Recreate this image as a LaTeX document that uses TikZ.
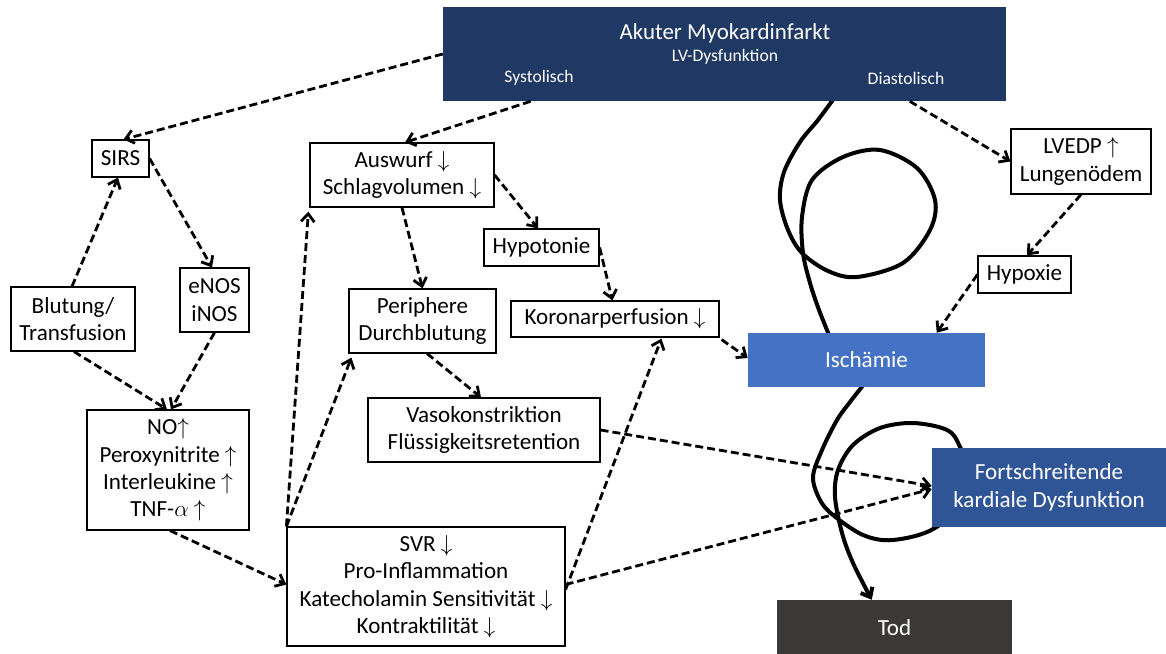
\documentclass[tikz,border=0pt]{standalone}
\usepackage{fontspec}
\setmainfont{Carlito}
\usetikzlibrary{arrows.meta,calc}
\pgfdeclarelayer{background}
\pgfsetlayers{background,main}
\definecolor{navy}{HTML}{203864}
\definecolor{isch}{HTML}{4472C4}
\definecolor{fort}{HTML}{2F5597}
\definecolor{todc}{HTML}{3B3838}
\newcommand{\arrdn}{$\downarrow$}
\newcommand{\arrup}{$\uparrow$}
\begin{document}
\begin{tikzpicture}[x=0.75pt,y=-0.75pt,
  bx/.style={draw, line width=0.9pt, fill=white, inner sep=0pt, align=center, font=\fontsize{17.3}{20.6}\selectfont},
  sbox/.style={fill=#1, text=white, inner sep=0pt, align=center, font=\fontsize{17.3}{20.6}\selectfont},
  wh/.style 2 args={minimum width=#1*0.75pt, minimum height=#2*0.75pt},
  dasharrow/.style={line width=2.1pt, dash pattern=on 6pt off 3pt, -{Straight Barb[length=6pt,width=10pt]}},
  curve/.style={line width=3pt, line cap=round, line join=round},
  toplabel/.style={text=white, inner sep=0pt, font=\fontsize{13.2}{15}\selectfont}]
\useasboundingbox (0,0) rectangle (1166,653);

% top box
\node[sbox=navy, wh={563}{94}] (top) at (724.5,54) {};
\node[text=white, inner sep=0pt, font=\fontsize{17.2}{20}\selectfont] (title) at (725,33) {Akuter Myokardinfarkt};
\node[toplabel] (lvd) at (725,57) {LV-Dysfunktion};
\node[toplabel] (sys) at (539,78) {Systolisch};
\node[toplabel] (dia) at (906,78) {Diastolisch};

% white boxes
\node[bx, wh={57}{37}] (sirs) at (120.5,158.5) {SIRS};
\node[bx, wh={69}{64}] (enos) at (214.5,300) {eNOS\\iNOS};
\node[bx, wh={124}{64}] (blut) at (73,319) {Blutung/\\Transfusion};
\node[bx, wh={184}{64}] (ausw) at (402,175) {Auswurf \arrdn\\Schlagvolumen \arrdn};
\node[bx, wh={115}{37}] (hypo) at (541.5,247.5) {Hypotonie};
\node[bx, wh={147}{64}] (peri) at (422.5,321) {Periphere\\Durchblutung};
\node[bx, wh={208}{36}] (koro) at (615,319) {Koronarperfusion \arrdn};
\node[bx, wh={140}{65}] (lved) at (1081,161.5) {LVEDP \arrup\\Lungenödem};
\node[bx, wh={93}{37}] (hypx) at (1024.5,274.5) {Hypoxie};
\node[bx, wh={162}{120}] (no) at (168,470) {NO\arrup\\Peroxynitrite \arrup\\Interleukine \arrup\\TNF-$\alpha$ \arrup};
\node[bx, wh={232}{64}] (vaso) at (484,430) {Vasokonstriktion\\Flüssigkeitsretention};
\node[bx, wh={278}{119}] (svr) at (426,586.5) {SVR \arrdn\\Pro-Inflammation\\Katecholamin Sensitivität \arrdn\\Kontraktilität \arrdn};

% coloured boxes
\node[sbox=isch, wh={237}{54}] (ischaemie) at (866.5,360) {Ischämie};
\node[sbox=fort, wh={234}{79}] (fortschr) at (1049,487.5) {Fortschreitende\\kardiale Dysfunktion};
\node[sbox=todc, wh={235}{56}] (tod) at (894.5,628) {Tod};

% black curves (behind boxes)
\coordinate (c1s) at ($(top.south west)+(392,-4)$);
\coordinate (c1e) at ($(ischaemie.north west)+(82,4)$);
\coordinate (c2s) at ($(ischaemie.south west)+(117,-4)$);
\coordinate (c2e) at ($(tod.north west)+(95,0)$);
\begin{pgfonlayer}{background}
\draw[curve] plot[smooth, tension=0.55] coordinates {(c1s) (818,120) (800,142) (784,172) (780,200) (788,230) (802,253) (828,271) (857,277) (903,263) (930,230) (935,200) (917,168) (880,150) (843,157) (812,180) (802,217) (803,253) (810,283) (819,310) (c1e)};
\draw[curve, -{Straight Barb[length=6pt,width=10pt]}] plot[smooth, tension=0.55] coordinates {(c2s) (850,402) (837,420) (822,450) (813,477) (820,500) (833,515) (863,535) (893,540) (935,528) (975,490) (960,447) (947,430) (913,423) (880,428) (853,445) (838,470) (835,497) (842,533) (853,563) (c2e)};
\end{pgfonlayer}

% dashed connectors
\draw[dasharrow] (top.west) -- ($(sirs.north)+(3,0)$);
\draw[dasharrow] ($(top.south west)+(88,0)$) -- ($(ausw.north)+(3,0)$);
\draw[dasharrow] ($(top.south west)+(467,0)$) -- (lved.west);
\draw[dasharrow] (lved.south) -- ($(hypx.north)+(2.5,0)$);
\draw[dasharrow] (hypx.west) -- ($(ischaemie.north west)+(189,0)$);
\draw[dasharrow] ($(koro.south east)+(2,2)$) -- ($(ischaemie.west)+(0,-2)$);
\draw[dasharrow] (hypo.east) -- ($(koro.north west)+(102,0)$);
\draw[dasharrow] (ausw.east) -- ($(hypo.north)+(-3.5,0)$);
\draw[dasharrow] (ausw.south) -- (peri.north);
\draw[dasharrow] (sirs.east) -- ($(enos.north)+(-2.5,0)$);
\draw[dasharrow] ($(blut.north)+(-1,0)$) -- ($(sirs.south)+(-2.5,0)$);
\draw[dasharrow] ($(blut.south)+(1,0)$) -- ($(no.north)+(-1,0)$);
\draw[dasharrow] (enos.south) -- ($(no.north)+(3,0)$);
\draw[dasharrow] ($(no.south)+(2,0)$) -- ($(svr.west)+(0,-2)$);
\draw[dasharrow] (svr.north west) -- ($(ausw.south west)+(-1,4)$);
\draw[dasharrow] (svr.north west) -- ($(peri.south west)+(3,4)$);
\draw[dasharrow] ($(peri.south)+(4.5,0)$) -- ($(vaso.north)+(-3,0)$);
\draw[dasharrow] (vaso.east) -- ($(fortschr.west)+(0,-1.5)$);
\draw[dasharrow] ($(svr.east)+(0,-2)$) -- ($(fortschr.west)+(0,1.5)$);
\draw[dasharrow] ($(svr.east)+(0,3)$) -- ($(koro.south west)+(151,1)$);
\end{tikzpicture}
\end{document}
